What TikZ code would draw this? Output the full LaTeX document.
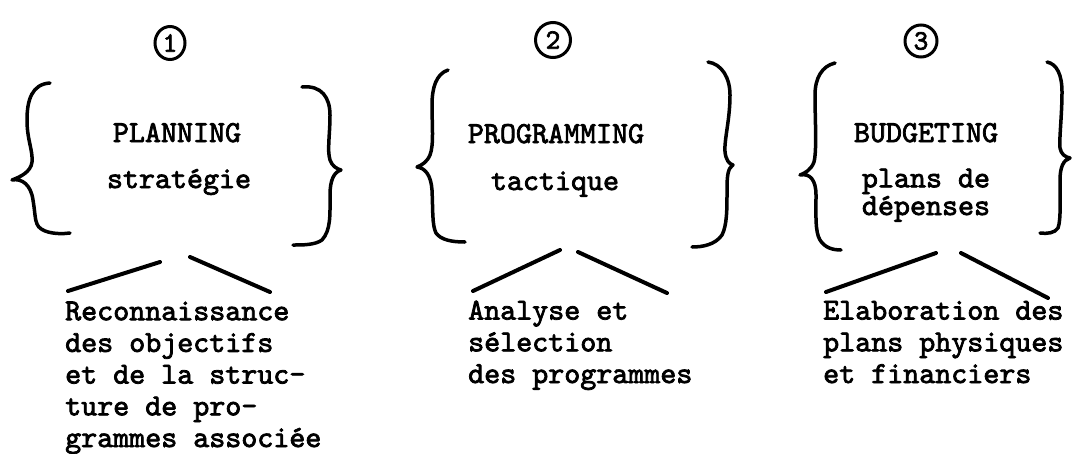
\documentclass[tikz,border=0pt]{standalone}
\usepackage{fontspec}
\newfontfamily\typew[FakeBold=2.5]{lmmono10-regular.otf}
\usetikzlibrary{shapes.geometric}
\begin{document}
\begin{tikzpicture}[x=1pt,y=-1pt,
  tw/.style={font=\typew\fontsize{30.5}{31.7}\selectfont, inner sep=0pt},
  brace/.style={line width=3.5pt, line cap=round, line join=round},
  stroke/.style={line width=4pt, line cap=round},
  num/.style={draw, line width=3pt, ellipse, inner sep=0pt, font=\typew\fontsize{28}{28}\selectfont}]
\useasboundingbox (0,0) rectangle (1078,453);

% ---- section 1
\node[num, minimum width=30, minimum height=33] (n1) at (170,43) {1};
\node[tw, anchor=base] (t1) at (177,142) {PLANNING};
\node[tw, anchor=base] (s1) at (179,188) {stratégie};
\node[tw, anchor=base west, align=left] (d1) at (65,447)
  {Reconnaissance\\des objectifs\\et de la struc-\\ture de pro-\\grammes associée};
\draw[brace] (50,83) .. controls (32,84) and (27,100) .. (27,120)
  .. controls (27,140) and (33,150) .. (32,162)
  .. controls (31,172) and (20,177) .. (12,180)
  .. controls (22,178) and (31,185) .. (33,200)
  .. controls (35,212) and (35,220) .. (37,224)
  .. controls (40,232) and (55,235) .. (70,233);
\draw[brace] (302,87) .. controls (322,85) and (330,98) .. (330,115)
  .. controls (330,135) and (327,150) .. (330,160)
  .. controls (332,166) and (337,169) .. (341,170)
  .. controls (334,172) and (330,180) .. (330,195)
  .. controls (330,215) and (331,230) .. (322,240)
  .. controls (315,245) and (303,245) .. (293,245);
\coordinate (a1) at (68,291); \coordinate (b1) at (160,262);
\coordinate (c1) at (190,257); \coordinate (e1) at (270,292);
\draw[stroke] (a1) -- (b1);
\draw[stroke] (c1) -- (e1);

% ---- section 2
\node[num, minimum size=35] (n2) at (553,40) {2};
\node[tw, anchor=base] (t2) at (556,143) {PROGRAMMING};
\node[tw, anchor=base] (s2) at (555,190) {tactique};
\node[tw, anchor=base west, align=left] (d2) at (468,383)
  {Analyse et\\sélection\\des programmes};
\draw[brace] (448,70) .. controls (436,74) and (432,88) .. (432,105)
  .. controls (432,125) and (434,145) .. (430,155)
  .. controls (427,162) and (422,165) .. (417,167)
  .. controls (425,168) and (431,175) .. (432,190)
  .. controls (433,210) and (432,225) .. (436,233)
  .. controls (441,240) and (452,242) .. (465,242);
\draw[brace] (708,62) .. controls (722,64) and (730,78) .. (730,95)
  .. controls (730,120) and (724,140) .. (725,152)
  .. controls (726,160) and (729,164) .. (733,165)
  .. controls (728,168) and (727,175) .. (727,190)
  .. controls (727,210) and (727,225) .. (722,235)
  .. controls (715,245) and (702,247) .. (692,247);
\coordinate (a2) at (473,291); \coordinate (b2) at (560,250);
\coordinate (c2) at (578,252); \coordinate (e2) at (667,293);
\draw[stroke] (a2) -- (b2);
\draw[stroke] (c2) -- (e2);

% ---- section 3
\node[num, minimum size=32] (n3) at (921,41) {3};
\node[tw, anchor=base] (t3) at (926,142) {BUDGETING};
\node[tw, anchor=base, align=center] (s3) at (926,215) {plans de\\[-4pt]dépenses};
\node[tw, anchor=base west, align=left] (d3) at (823,383)
  {Elaboration des\\plans physiques\\et financiers};
\draw[brace] (835,63) .. controls (822,66) and (815,78) .. (815,95)
  .. controls (815,120) and (817,150) .. (814,162)
  .. controls (811,170) and (805,173) .. (800,175)
  .. controls (810,173) and (816,180) .. (816,195)
  .. controls (816,215) and (815,232) .. (820,240)
  .. controls (825,248) and (833,250) .. (841,250);
\draw[brace] (1047,62) .. controls (1057,64) and (1062,75) .. (1062,92)
  .. controls (1062,115) and (1059,140) .. (1060,148)
  .. controls (1061,154) and (1065,157) .. (1070,158)
  .. controls (1063,160) and (1060,168) .. (1060,180)
  .. controls (1060,200) and (1061,220) .. (1058,228)
  .. controls (1055,233) and (1047,234) .. (1040,233);
\coordinate (a3) at (826,292); \coordinate (b3) at (936,253);
\coordinate (c3) at (961,253); \coordinate (e3) at (1048,298);
\draw[stroke] (a3) -- (b3);
\draw[stroke] (c3) -- (e3);
\end{tikzpicture}
\end{document}
